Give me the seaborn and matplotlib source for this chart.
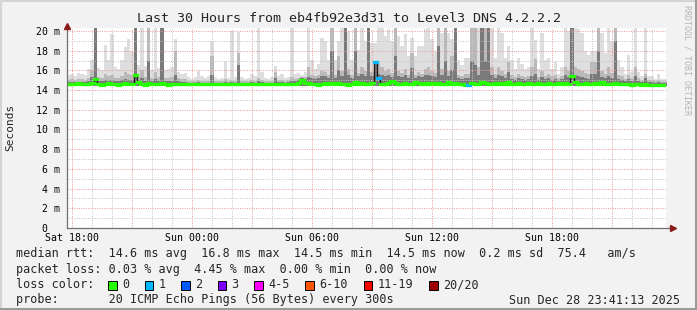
import numpy as np
import pandas as pd
import matplotlib
matplotlib.use("Agg")
import matplotlib.pyplot as plt
import seaborn as sns
from matplotlib.patches import Rectangle
from matplotlib.lines import Line2D
from matplotlib.ticker import MultipleLocator, FixedLocator, FixedFormatter

# ---------------- data (10-minute columns, 30 hours, starting Sat 17:45) -------------
start_hour = 17.75          # hours since Sat 00:00
step_minutes = 10

smoke_max = [
    15.5, 15.6, 15.4, 15.7, 15.6, 15.5, 16.1, 17.1, 20.5, 16.2, 16.0, 18.6, 17.1, 19.7, 16.3, 16.1, 17.1, 18.4,
    19.2, 18.0, 20.5, 16.5, 20.5, 16.4, 20.5, 16.0, 20.5, 16.2, 20.5, 16.0, 16.1, 16.3, 19.2, 15.8, 15.6, 15.7,
    15.3, 15.1, 15.3, 15.9, 15.4, 15.2, 15.4, 19.0, 15.3, 15.1, 15.2, 16.9, 15.2, 20.0, 15.3, 19.9, 15.3, 15.1,
    15.2, 15.6, 15.4, 20.5, 15.8, 15.2, 15.1, 15.3, 16.4, 15.4, 15.6, 15.2, 15.3, 20.5, 15.6, 15.7, 15.5, 15.8,
    20.5, 17.1, 16.1, 16.6, 19.3, 19.0, 17.1, 20.5, 17.1, 19.0, 20.5, 20.5, 20.0, 17.1, 20.5, 18.1, 20.5, 19.0,
    20.5, 18.8, 18.8, 20.5, 20.5, 19.5, 20.2, 19.0, 20.5, 19.5, 18.5, 19.7, 17.5, 19.3, 17.5, 18.5, 18.5, 20.2,
    20.5, 19.2, 18.0, 20.5, 19.8, 20.5, 19.8, 19.2, 20.5, 17.1, 16.5, 17.3, 17.3, 20.5, 20.5, 20.5, 20.5, 20.5,
    20.5, 20.5, 17.3, 20.5, 19.8, 17.3, 18.5, 17.1, 16.1, 17.3, 16.6, 16.1, 16.3, 20.5, 19.1, 16.1, 19.8, 17.1,
    17.3, 16.1, 16.8, 15.6, 16.3, 20.5, 20.0, 20.5, 20.5, 20.2, 19.8, 18.0, 17.6, 18.0, 18.0, 20.5, 19.8, 17.8,
    20.5, 19.0, 20.5, 17.1, 16.3, 15.6, 17.6, 15.8, 20.5, 15.8, 15.4, 20.5, 15.4, 15.4, 15.1, 15.6, 15.1, 15.1,
]
smoke_mid = [
    15.0, 15.1, 15.0, 15.1, 15.1, 15.0, 15.2, 16.0, 20.5, 15.3, 15.2, 15.6, 15.4, 15.5, 15.2, 15.2, 15.4, 15.8,
    15.6, 15.5, 20.5, 15.4, 16.0, 15.3, 20.5, 15.2, 15.8, 15.3, 20.5, 15.2, 15.2, 15.3, 18.0, 15.2, 15.1, 15.1,
    14.9, 14.9, 14.9, 15.0, 14.9, 14.9, 14.9, 17.5, 14.9, 14.9, 14.9, 15.1, 14.9, 15.0, 14.9, 17.8, 14.9, 14.9,
    14.9, 15.0, 14.9, 15.2, 15.0, 14.9, 14.9, 14.9, 15.8, 15.0, 15.0, 14.9, 15.0, 15.3, 15.1, 15.2, 15.3, 15.3,
    16.3, 15.5, 15.4, 15.5, 15.9, 15.8, 15.5, 20.5, 15.5, 17.5, 15.9, 20.5, 16.1, 15.5, 20.5, 15.7, 16.3, 15.9,
    20.5, 15.8, 16.8, 16.6, 16.3, 15.9, 16.1, 15.7, 20.5, 15.9, 15.7, 16.1, 15.5, 17.8, 15.5, 15.8, 15.6, 16.1,
    16.3, 15.9, 15.7, 20.5, 16.1, 20.5, 15.9, 17.5, 20.5, 15.5, 15.4, 15.6, 15.6, 20.5, 20.5, 16.3, 20.5, 20.5,
    20.5, 16.3, 15.6, 16.3, 15.9, 15.6, 16.8, 15.5, 15.3, 15.6, 15.4, 15.3, 15.4, 16.3, 17.2, 15.3, 15.9, 15.4,
    15.6, 15.4, 15.5, 15.2, 15.4, 16.3, 15.9, 20.5, 16.3, 16.1, 15.9, 15.7, 15.6, 16.8, 16.8, 20.5, 15.9, 15.6,
    16.3, 15.7, 20.5, 15.5, 15.4, 15.1, 15.5, 15.2, 16.3, 15.2, 15.0, 15.6, 15.0, 15.0, 14.9, 15.0, 14.9, 14.9,
]
smoke_dark = [
    14.8, 14.8, 14.8, 14.8, 14.8, 14.8, 14.9, 15.3, 20.5, 14.9, 14.9, 15.0, 14.9, 15.0, 14.9, 14.9, 15.0, 15.1,
    15.0, 15.0, 20.5, 15.0, 15.2, 14.9, 17.0, 14.9, 15.1, 14.9, 20.5, 14.9, 14.9, 14.9, 15.5, 14.9, 14.8, 14.8,
    14.7, 14.7, 14.7, 14.8, 14.7, 14.7, 14.7, 15.5, 14.7, 14.7, 14.7, 14.8, 14.7, 14.8, 14.7, 16.5, 14.7, 14.7,
    14.7, 14.8, 14.7, 14.9, 14.8, 14.7, 14.7, 14.7, 15.2, 14.8, 14.8, 14.7, 14.8, 14.9, 14.9, 15.0, 15.2, 15.1,
    15.3, 15.2, 15.1, 15.2, 15.4, 15.4, 15.2, 18.0, 15.2, 16.0, 15.4, 20.5, 15.5, 15.2, 18.0, 15.4, 15.6, 15.4,
    20.5, 15.4, 16.8, 15.6, 15.5, 15.4, 15.5, 15.3, 17.5, 15.4, 15.3, 15.5, 15.2, 16.2, 15.2, 15.4, 15.3, 15.5,
    15.5, 15.4, 15.3, 18.5, 15.5, 17.0, 15.4, 16.0, 20.5, 15.2, 15.1, 15.2, 15.2, 17.0, 16.5, 15.5, 20.5, 17.0,
    20.5, 15.5, 15.2, 15.5, 15.4, 15.2, 15.8, 15.1, 15.0, 15.2, 15.1, 15.0, 15.1, 15.4, 15.6, 15.0, 15.3, 15.1,
    15.2, 15.0, 15.1, 14.9, 15.1, 15.5, 15.3, 20.5, 15.5, 15.4, 15.3, 15.2, 15.1, 15.6, 15.6, 18.0, 15.3, 15.2,
    15.4, 15.2, 19.0, 15.1, 15.0, 14.9, 15.1, 14.9, 15.4, 14.9, 14.8, 15.2, 14.8, 14.8, 14.7, 14.8, 14.7, 14.7,
]
median_rtt = [
    14.6, 14.6, 14.6, 14.7, 14.6, 14.6, 14.6, 14.7, 15.1, 14.6, 14.5, 14.6, 14.7, 14.6, 14.6, 14.5, 14.6, 14.7,
    14.6, 14.6, 15.5, 14.8, 14.6, 14.5, 14.7, 14.6, 14.6, 14.6, 14.7, 14.6, 14.5, 14.6, 14.6, 14.6, 14.6, 14.6,
    14.6, 14.6, 14.6, 14.6, 14.6, 14.6, 14.6, 14.6, 14.6, 14.6, 14.6, 14.6, 14.6, 14.6, 14.6, 14.6, 14.6, 14.6,
    14.6, 14.6, 14.6, 14.6, 14.6, 14.6, 14.6, 14.6, 14.6, 14.6, 14.6, 14.6, 14.6, 14.6, 14.6, 14.7, 15.0, 14.7,
    14.7, 14.6, 14.6, 14.5, 14.6, 14.7, 14.6, 14.7, 14.6, 14.7, 14.6, 14.6, 14.5, 14.6, 14.8, 14.6, 14.7, 14.6,
    14.6, 14.7, 16.8, 15.2, 14.6, 14.6, 14.7, 14.9, 14.7, 14.6, 14.6, 14.7, 14.6, 14.6, 14.8, 14.7, 14.6, 14.7,
    14.6, 14.7, 14.6, 14.7, 14.6, 14.6, 14.8, 14.6, 14.7, 14.6, 14.6, 14.5, 14.5, 14.7, 14.6, 14.6, 14.8, 14.7,
    14.6, 14.6, 14.7, 14.6, 14.7, 14.6, 14.8, 14.6, 14.6, 14.7, 14.6, 14.6, 14.7, 14.6, 14.6, 14.7, 14.6, 14.6,
    14.7, 14.6, 14.6, 14.7, 14.6, 14.7, 14.6, 15.4, 14.8, 14.6, 14.6, 14.7, 14.6, 14.6, 14.7, 14.6, 14.8, 14.6,
    14.6, 14.6, 14.7, 14.6, 14.6, 14.6, 14.6, 14.5, 14.6, 14.6, 14.5, 14.6, 14.5, 14.5, 14.5, 14.5, 14.5, 14.5,
]
lost_pings = [0] * 180
lost_pings[92] = 1
lost_pings[93] = 1
lost_pings[120] = 1
lowest_ping = 14.42

x_ticks = [18, 21, 24, 27, 30, 33, 36, 39, 42, 45]
x_tick_labels = ["Sat 18:00", "", "Sun 00:00", "", "Sun 06:00", "", "Sun 12:00", "", "Sun 18:00", ""]
y_ticks = [0, 2, 4, 6, 8, 10, 12, 14, 16, 18, 20]
y_tick_labels = ["0  ", "2 m", "4 m", "6 m", "8 m", "10 m", "12 m", "14 m", "16 m", "18 m", "20 m"]

loss_labels = ["0", "1", "2", "3", "4-5", "6-10", "11-19", "20/20"]
loss_colors = ["#26ff00", "#00b8ff", "#0059ff", "#7e00ff", "#ff00ff", "#ff5500", "#ff0000", "#a10000"]

title = "Last 30 Hours from eb4fb92e3d31 to Level3 DNS 4.2.2.2"
rtt_line = "median rtt:  14.6 ms avg  16.8 ms max  14.5 ms min  14.5 ms now  0.2 ms sd  75.4   am/s"
loss_line = "packet loss: 0.03 % avg  4.45 % max  0.00 % min  0.00 % now"
probe_line = "probe:       20 ICMP Echo Pings (56 Bytes) every 300s"
stamp = "Sun Dec 28 23:41:13 2025"

# ---------------- build frame ----------------
step_h = step_minutes / 60.0
times = start_hour + np.arange(len(median_rtt)) * step_h
df = pd.DataFrame({"t": times, "median": median_rtt, "max": smoke_max,
                   "mid": smoke_mid, "dark": smoke_dark, "loss": lost_pings})

sns.set_style("white")
plt.rcParams["font.family"] = ["DejaVu Sans Mono", "DejaVu Sans"]

W, H = 697, 310
fig = plt.figure(figsize=(W / 100, H / 100), dpi=100)
fig.patch.set_facecolor("#f2f2f2")

ax = fig.add_axes([67 / W, (H - 228) / H, 599 / W, 200 / H])
ax.set_facecolor("white")

tt = np.append(df["t"].values, df["t"].values[-1] + step_h)
def ext(a):
    a = np.asarray(a, dtype=float)
    return np.append(a, a[-1])

ax.fill_between(tt, lowest_ping, ext(df["max"]), step="post", color="#dedede", lw=0, zorder=1)
ax.fill_between(tt, lowest_ping, ext(df["mid"]), step="post", color="#b9b9b9", lw=0, zorder=1.1)
ax.fill_between(tt, lowest_ping, ext(df["dark"]), step="post", color="#7a7a7a", lw=0, zorder=1.2)

# grid
ax.set_xlim(start_hour, start_hour + 599 / 20.0)
ax.set_ylim(0, 20.3)
ax.xaxis.set_major_locator(FixedLocator(x_ticks))
ax.xaxis.set_major_formatter(FixedFormatter(x_tick_labels))
ax.xaxis.set_minor_locator(MultipleLocator(1))
ax.yaxis.set_major_locator(FixedLocator(y_ticks))
ax.yaxis.set_major_formatter(FixedFormatter(y_tick_labels))
ax.yaxis.set_minor_locator(MultipleLocator(1))
ax.set_axisbelow(False)
ax.grid(which="major", color="#ee9c9c", lw=0.72, linestyle=(0, (1, 1.3)), zorder=2)
ax.grid(which="minor", color="#c6c6c6", lw=0.72, linestyle=(0, (1, 1.3)), zorder=2)

# median line: thin black steps for the jumps, loss-coloured segments on top
sns.lineplot(data=df, x="t", y="median", drawstyle="steps-post", color="#1a1a1a", lw=1.0,
             ax=ax, zorder=4, legend=False)
seg = ax.hlines(df["median"], df["t"], df["t"] + step_h,
                colors=[loss_colors[int(l)] for l in df["loss"]], lw=2.3, zorder=5)
seg.set_capstyle("projecting")
ax.set_xlabel("")
ax.set_ylabel("")

for s in ["top", "right"]:
    ax.spines[s].set_visible(False)
for s in ["left", "bottom"]:
    ax.spines[s].set_color("#707070")
    ax.spines[s].set_linewidth(0.9)
    ax.spines[s].set_zorder(6)

ax.tick_params(axis="x", which="major", labelsize=7.1, length=2.5, direction="inout",
               color="#707070", pad=2.5, labelcolor="black")
ax.tick_params(axis="y", which="major", labelsize=7.1, length=2.9, direction="inout",
               color="#707070", pad=3.4, labelcolor="black")
ax.tick_params(which="minor", length=1.5, direction="inout", color="#707070")

# axis arrows
ax.plot([1.0, 1.01], [0, 0], transform=ax.transAxes, color="#707070", lw=0.9, clip_on=False, zorder=6)
ax.plot([1.012], [0], transform=ax.transAxes, marker=">", ms=4.5, color="#8b1a1a",
        mec="#8b1a1a", clip_on=False, zorder=7)
ax.plot([0], [1.01], transform=ax.transAxes, marker="^", ms=4.5, color="#8b1a1a",
        mec="#8b1a1a", clip_on=False, zorder=7)

# texts
fig.text(349 / W, 1 - 18 / H, title, ha="center", va="center", fontsize=9.6)
fig.text(10 / W, 1 - 127 / H, "Seconds", rotation=90, ha="center", va="center", fontsize=8)
fig.text(687 / W, 1 - 60 / H, "RRDTOOL / TOBI OETIKER", rotation=270, ha="center", va="center",
         fontsize=6, color="#b4b4b4")

fs = 8.5
fig.text(16 / W, 1 - 254 / H, rtt_line, ha="left", va="center", fontsize=fs)
fig.text(16 / W, 1 - 270 / H, loss_line, ha="left", va="center", fontsize=fs)
fig.text(16 / W, 1 - 285 / H, "loss color:", ha="left", va="center", fontsize=fs)
fig.text(16 / W, 1 - 300 / H, probe_line, ha="left", va="center", fontsize=fs)
fig.text(680 / W, 1 - 300 / H, stamp, ha="right", va="center", fontsize=fs)

cw = 7.3
xpos = 108.0
for lab, col in zip(loss_labels, loss_colors):
    fig.add_artist(Rectangle((xpos / W, (H - 290) / H), 8.5 / W, 9 / H, transform=fig.transFigure,
                             facecolor=col, edgecolor="black", lw=0.7))
    fig.text((xpos + 14) / W, 1 - 285 / H, lab, ha="left", va="center", fontsize=fs)
    xpos += cw * (2 + len(lab) + 2)

# frame shading
fig.add_artist(Line2D([0, 1], [1 - 1 / H, 1 - 1 / H], transform=fig.transFigure, color="#d4d4d4", lw=1.5))
fig.add_artist(Line2D([1 / W, 1 / W], [0, 1], transform=fig.transFigure, color="#d4d4d4", lw=1.5))
fig.add_artist(Line2D([0, 1], [1 / H, 1 / H], transform=fig.transFigure, color="#9a9a9a", lw=1.5))
fig.add_artist(Line2D([1 - 1 / W, 1 - 1 / W], [0, 1], transform=fig.transFigure, color="#9a9a9a", lw=1.5))

fig.savefig("out.png", dpi=100, facecolor=fig.get_facecolor())
